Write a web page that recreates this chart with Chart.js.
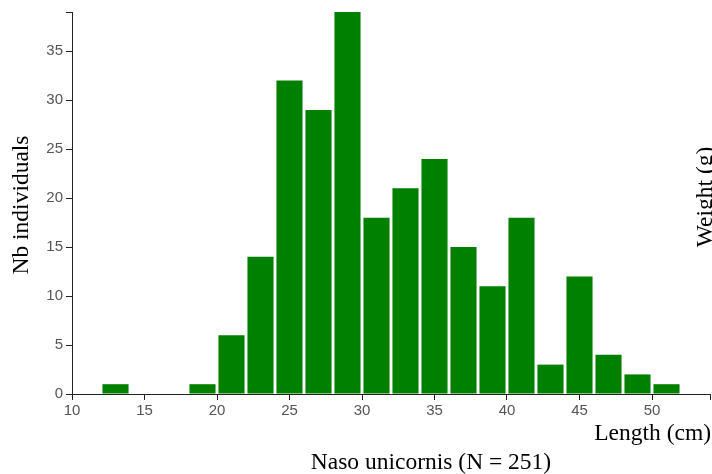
<!DOCTYPE html>
<html>
<head>
<meta charset="utf-8">
<script src="https://cdn.jsdelivr.net/npm/chart.js@4/dist/chart.umd.min.js"></script>
<style>
  html, body { margin: 0; padding: 0; background: #fff; overflow: hidden; }
  #wrap { width: 712px; height: 474px; position: relative; }
</style>
</head>
<body>
<div id="wrap"><canvas id="chart"></canvas></div>
<script>
// length bins (cm), 2 cm wide, given by their centre
var binCentres = [13, 19, 21, 23, 25, 27, 29, 31, 33, 35, 37, 39, 41, 43, 45, 47, 49, 51];
var counts     = [1, 1, 6, 14, 32, 29, 39, 18, 21, 24, 15, 11, 18, 3, 12, 4, 2, 1];
var xMin = 10, xMax = 54;
var yMax = 39;
var chartTitle = 'Naso unicornis (N = 251)';
var xTitle = 'Length (cm)';
var yTitle = 'Nb individuals';
var y2Title = 'Weight (g)';

var points = binCentres.map(function (c, i) { return {x: c, y: counts[i]}; });

// axis titles drawn like the original svg labels
var titlesPlugin = {
  id: 'titles',
  afterDraw: function (chart) {
    var ctx = chart.ctx;
    ctx.save();
    ctx.fillStyle = '#000';
    ctx.font = '23.5px "Liberation Serif", "Times New Roman", serif';
    ctx.textBaseline = 'alphabetic';

    ctx.textAlign = 'right';
    ctx.fillText(xTitle, 711, 440);

    ctx.textAlign = 'center';
    ctx.fillText(chartTitle, 431, 469);

    ctx.save();
    ctx.translate(28, 205);
    ctx.rotate(-Math.PI / 2);
    ctx.fillText(yTitle, 0, 0);
    ctx.restore();

    ctx.save();
    ctx.translate(712, 197);
    ctx.rotate(-Math.PI / 2);
    ctx.fillText(y2Title, 0, 0);
    ctx.restore();
    ctx.restore();
  }
};

var tickFont = {family: '"Liberation Sans", Arial, sans-serif', size: 15};

var chart = new Chart('chart', {
  type: 'bar',
  data: {
    datasets: [{
      data: points,
      backgroundColor: '#008000',
      borderWidth: 0,
      barPercentage: 0.9,
      categoryPercentage: 1.0
    }]
  },
  options: {
    responsive: true,
    maintainAspectRatio: false,
    animation: false,
    layout: {padding: {top: 10, right: 0, left: 0, bottom: 0}},
    plugins: {
      legend: {display: false},
      tooltip: {enabled: false}
    },
    scales: {
      x: {
        type: 'linear',
        min: xMin,
        max: xMax,
        offset: false,
        afterFit: function (scale) { scale.height = 80; },
        border: {display: true, color: '#222', width: 1},
        grid: {offset: false, drawOnChartArea: false, drawTicks: true, tickLength: 6, color: '#222'},
        ticks: {
          stepSize: 5,
          color: '#555',
          font: tickFont,
          padding: 2,
          maxRotation: 0,
          callback: function (v) { return v % 5 === 0 ? String(v) : ''; }
        }
      },
      y: {
        min: 0,
        max: yMax,
        afterFit: function (scale) { scale.width = 72; },
        border: {display: true, color: '#222', width: 1},
        grid: {drawOnChartArea: false, drawTicks: true, tickLength: 6, color: '#222'},
        ticks: {
          stepSize: 5,
          color: '#555',
          font: tickFont,
          padding: 3,
          callback: function (v) { return v % 5 === 0 ? String(v) : ''; }
        }
      }
    }
  },
  plugins: [titlesPlugin]
});
</script>
</body>
</html>
